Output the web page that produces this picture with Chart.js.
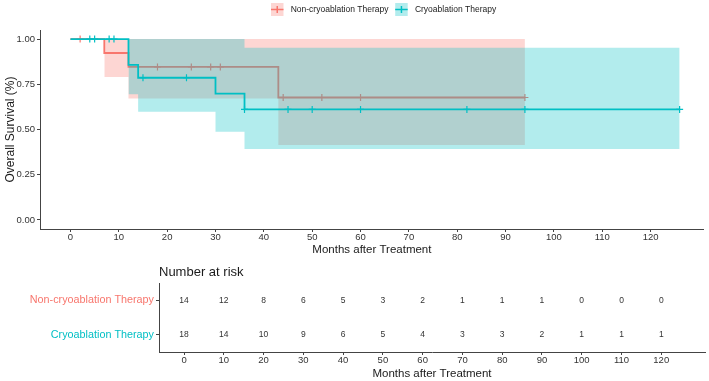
<!DOCTYPE html>
<html>
<head>
<meta charset="utf-8">
<script src="https://cdn.jsdelivr.net/npm/chart.js@4"></script>
<style>
  body { margin: 0; background: #fff; }
  #wrap { position: relative; width: 709px; height: 381px; }
  #survBox { position: absolute; left: 0; top: 0; width: 709px; height: 262px; }
  #riskBox { position: absolute; left: 0; top: 262px; width: 709px; height: 119px; }
</style>
</head>
<body>
<div id="wrap">
  <div id="survBox"><canvas id="survChart"></canvas></div>
  <div id="riskBox"><canvas id="riskChart"></canvas></div>
</div>
<script>
// Groups and colours
const groups = ["Non-cryoablation Therapy", "Cryoablation Therapy"];
const lineColors = ["#F8766D", "#00BFC4"];
const bandColors = ["rgba(248,118,109,0.3)", "rgba(0,191,196,0.3)"];

// Kaplan-Meier steps (months, survival)
const nonTime = [0, 7, 12, 43, 94];
const nonSurv = [1, 0.923, 0.846, 0.677, 0.677];
const cryoTime = [0, 12, 14, 30, 36, 126];
const cryoSurv = [1, 0.857, 0.786, 0.698, 0.611, 0.611];

// Confidence bands
const nonBandTime = [7, 12, 43, 94];
const nonUpper = [1, 1, 1, 1];
const nonLower = [0.79, 0.672, 0.414, 0.414];
const cryoBandTime = [12, 14, 30, 36, 126];
const cryoUpper = [1, 1, 1, 0.952, 0.952];
const cryoLower = [0.695, 0.598, 0.488, 0.392, 0.392];

// Censored observations
const nonCensorTime = [2, 18, 25, 29, 31, 44, 52, 60, 94];
const nonCensorSurv = [1, 0.846, 0.846, 0.846, 0.846, 0.677, 0.677, 0.677, 0.677];
const cryoCensorTime = [4, 5, 8, 9, 15, 24, 36, 45, 50, 60, 82, 94, 126];
const cryoCensorSurv = [1, 1, 1, 1, 0.786, 0.786, 0.611, 0.611, 0.611, 0.611, 0.611, 0.611, 0.611];

// Number at risk table
const riskTime = [0, 10, 20, 30, 40, 50, 60, 70, 80, 90, 100, 110, 120];
const nonRisk = [14, 12, 8, 6, 5, 3, 2, 1, 1, 1, 0, 0, 0];
const cryoRisk = [18, 14, 10, 9, 6, 5, 4, 3, 3, 2, 1, 1, 1];

// Tick labels
const monthTicks = [0, 10, 20, 30, 40, 50, 60, 70, 80, 90, 100, 110, 120];
const survTicks = [0, 0.25, 0.5, 0.75, 1];

const family = "'Liberation Sans', Arial, sans-serif";
const axisColor = "#444";

function pts(xs, ys) {
  return xs.map((x, i) => ({ x: x, y: ys[i] }));
}

function bandEdge(xs, ys, fill, color, order) {
  return {
    data: pts(xs, ys), stepped: true, pointRadius: 0, borderWidth: 0,
    borderColor: "transparent", backgroundColor: color, fill: fill, order: order
  };
}

function kmLine(xs, ys, color, order) {
  return {
    data: pts(xs, ys), stepped: true, pointRadius: 0, borderWidth: 1.8,
    borderColor: color, fill: false, order: order
  };
}

function censor(xs, ys, color, order) {
  return {
    type: "scatter", data: pts(xs, ys), pointStyle: "cross", pointRadius: 3.5,
    borderWidth: 1.2, borderColor: color, showLine: false, order: order
  };
}

/* Legend with band box and cross, drawn above the plot */
const legendPlugin = {
  id: "kmLegend",
  afterDraw(chart) {
    const ctx = chart.ctx;
    ctx.save();
    ctx.font = "8.5px " + family;
    ctx.textBaseline = "middle";
    let x = 271;
    const y = 9.5;
    groups.forEach((g, i) => {
      ctx.fillStyle = bandColors[i];
      ctx.fillRect(x, y - 6.5, 12.5, 13);
      ctx.strokeStyle = lineColors[i];
      ctx.lineWidth = 1.5;
      ctx.beginPath();
      ctx.moveTo(x, y);
      ctx.lineTo(x + 12.5, y);
      ctx.moveTo(x + 6.25, y - 3.5);
      ctx.lineTo(x + 6.25, y + 3.5);
      ctx.stroke();
      ctx.fillStyle = "#1a1a1a";
      ctx.fillText(g, x + 19.7, y);
      x += 19.7 + ctx.measureText(g).width + 6.7;
    });
    ctx.restore();
  }
};

/* Numbers in the risk table, placed at the dataset points */
const riskTextPlugin = {
  id: "riskText",
  afterDatasetsDraw(chart) {
    const ctx = chart.ctx;
    const rows = [nonRisk, cryoRisk];
    ctx.save();
    ctx.font = "8.5px " + family;
    ctx.fillStyle = "#333";
    ctx.textAlign = "center";
    ctx.textBaseline = "middle";
    rows.forEach((row, di) => {
      chart.getDatasetMeta(di).data.forEach((pt, i) => {
        ctx.fillText(String(row[i]), pt.x, pt.y);
      });
    });
    ctx.font = "13px " + family;
    ctx.fillStyle = "#1a1a1a";
    ctx.textAlign = "left";
    ctx.fillText("Number at risk", chart.chartArea.left, 10);
    ctx.restore();
  }
};

function xScale(height, titlePad) {
  return {
    type: "linear", min: -6.3, max: 131,
    afterBuildTicks: s => { s.ticks = monthTicks.map(v => ({ value: v })); },
    afterFit: s => { s.height = height; },
    grid: { display: true, drawOnChartArea: false, drawTicks: true, tickLength: 3, color: axisColor },
    border: { display: true, color: axisColor, width: 1 },
    ticks: { font: { size: 9.5, family: family }, color: "#333", padding: 0, maxRotation: 0, autoSkip: false },
    title: {
      display: true, text: "Months after Treatment", color: "#1a1a1a",
      font: { size: 11.5, family: family }, padding: { top: 0, bottom: titlePad }
    }
  };
}

// Survival curves
new Chart(document.getElementById("survChart"), {
  type: "line",
  data: {
    datasets: [
      bandEdge(nonBandTime, nonUpper, false, bandColors[0], 10),
      bandEdge(nonBandTime, nonLower, "-1", bandColors[0], 9),
      kmLine(nonTime, nonSurv, lineColors[0], 8),
      censor(nonCensorTime, nonCensorSurv, lineColors[0], 7),
      bandEdge(cryoBandTime, cryoUpper, false, bandColors[1], 6),
      bandEdge(cryoBandTime, cryoLower, "-1", bandColors[1], 5),
      kmLine(cryoTime, cryoSurv, lineColors[1], 4),
      censor(cryoCensorTime, cryoCensorSurv, lineColors[1], 3)
    ]
  },
  options: {
    responsive: true,
    maintainAspectRatio: false,
    animation: false,
    devicePixelRatio: 1,
    events: [],
    layout: { padding: { top: 30, right: 4, left: 0, bottom: 0 } },
    plugins: {
      legend: { display: false },
      tooltip: { enabled: false },
      filler: { drawTime: "beforeDatasetDraw" }
    },
    scales: {
      x: xScale(33, 5),
      y: {
        type: "linear", min: -0.05, max: 1.05,
        afterBuildTicks: s => { s.ticks = survTicks.map(v => ({ value: v })); },
        afterFit: s => { s.width = 40; },
        grid: { display: true, drawOnChartArea: false, drawTicks: true, tickLength: 3, color: axisColor },
        border: { display: true, color: axisColor, width: 1 },
        ticks: { font: { size: 9.5, family: family }, color: "#333", padding: 2, callback: v => v.toFixed(2) },
        title: {
          display: true, text: "Overall Survival (%)", color: "#1a1a1a",
          font: { size: 12, family: family }, padding: { top: 3, bottom: 0 }
        }
      }
    }
  },
  plugins: [legendPlugin]
});

// Number at risk table
new Chart(document.getElementById("riskChart"), {
  type: "scatter",
  data: {
    datasets: [
      { data: riskTime.map(t => ({ x: t, y: 2 })), pointRadius: 0 },
      { data: riskTime.map(t => ({ x: t, y: 1 })), pointRadius: 0 }
    ]
  },
  options: {
    responsive: true,
    maintainAspectRatio: false,
    animation: false,
    devicePixelRatio: 1,
    events: [],
    layout: { padding: { top: 21, right: 4, left: 0, bottom: 0 } },
    plugins: { legend: { display: false }, tooltip: { enabled: false } },
    scales: {
      x: xScale(29, 0),
      y: {
        type: "linear", min: 0.5, max: 2.5,
        afterBuildTicks: s => { s.ticks = [{ value: 1 }, { value: 2 }]; },
        afterFit: s => { s.width = 159; },
        grid: { display: true, drawOnChartArea: false, drawTicks: true, tickLength: 3, color: axisColor },
        border: { display: true, color: axisColor, width: 1 },
        ticks: {
          font: { size: 10.8, family: family }, padding: 2,
          color: c => (c.tick.value === 2 ? lineColors[0] : lineColors[1]),
          callback: v => (v === 2 ? groups[0] : groups[1])
        }
      }
    }
  },
  plugins: [riskTextPlugin]
});
</script>
</body>
</html>
